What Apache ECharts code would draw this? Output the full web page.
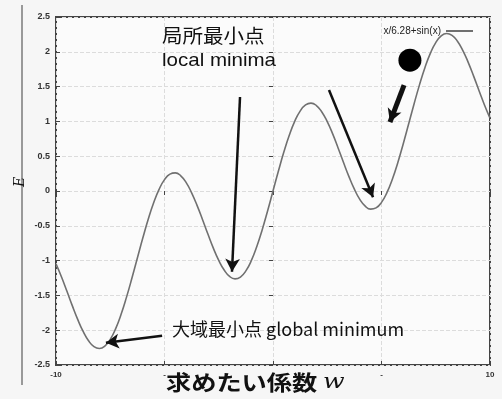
<!DOCTYPE html>
<html><head><meta charset="utf-8">
<script src="https://cdn.jsdelivr.net/npm/echarts@6/dist/echarts.min.js"></script>
<style>html,body{margin:0;padding:0;background:#f6f6f6;}#c{width:502px;height:399px;}</style>
</head><body><div id="c"></div>
<script>
const seriesName = 'x/6.28+sin(x)';
const xValues = [-10,-9.75,-9.5,-9.25,-9,-8.75,-8.5,-8.25,-8,-7.75,-7.5,-7.25,-7,-6.75,-6.5,-6.25,-6,-5.75,-5.5,-5.25,-5,-4.75,-4.5,-4.25,-4,-3.75,-3.5,-3.25,-3,-2.75,-2.5,-2.25,-2,-1.75,-1.5,-1.25,-1,-0.75,-0.5,-0.25,0,
  0.25,0.5,0.75,1,1.25,1.5,1.75,2,2.25,2.5,2.75,3,3.25,3.5,3.75,4,4.25,4.5,4.75,5,5.25,5.5,5.75,6,6.25,6.5,6.75,7,7.25,7.5,7.75,8,8.25,8.5,8.75,9,9.25,9.5,9.75,10];
const yValues = [-1.048,-1.233,-1.438,-1.647,-1.845,-2.018,-2.152,-2.236,-2.263,-2.229,-2.132,-1.978,-1.772,-1.525,-1.250,-0.962,-0.676,-0.407,-0.170,0.023,0.163,0.243,0.261,0.218,0.120,-0.026,-0.207,-0.409,-0.619,-0.820,-0.997,-1.136,-1.228,-1.263,-1.236,-1.148,-1.001,-0.801,-0.559,-0.287,0,
  0.287,0.559,0.801,1.001,1.148,1.236,1.263,1.228,1.136,0.997,0.820,0.619,0.409,0.207,0.026,-0.120,-0.218,-0.261,-0.243,-0.163,-0.023,0.170,0.407,0.676,0.962,1.250,1.525,1.772,1.978,2.132,2.229,2.263,2.236,2.152,2.018,1.845,1.647,1.438,1.233,1.048];
const yTicks = [-2.5,-2,-1.5,-1,-0.5,0,0.5,1,1.5,2,2.5];
const xTickLabels = {'-10':'-10','10':'10'};
const arrows = [
  [[-1.52,1.35],[-1.89,-1.16]],
  [[2.58,1.45],[4.61,-0.09]],
  [[-5.11,-2.08],[-7.7,-2.18]]
];
const thickArrow = [[6.04,1.52],[5.39,0.99]];
const ball = [6.31,1.88];

const tickOnly = {axisLine:{show:false},axisLabel:{show:false},splitLine:{show:false},
  axisTick:{show:true,inside:true,length:4,lineStyle:{color:'#444'}}};

const chart = echarts.init(document.getElementById('c'));
chart.setOption({
  backgroundColor:'#f6f6f6',
  animation:false,
  grid:{left:56,right:12,top:17,bottom:34,show:true,backgroundColor:'#fbfbfb',borderColor:'#444',borderWidth:2},
  legend:{top:21,right:24,itemWidth:27,itemHeight:2,icon:'rect',itemGap:5,align:'right',
    textStyle:{fontSize:10,color:'#222',fontFamily:'Liberation Sans'},data:[seriesName]},
  xAxis:[{type:'value',min:-10,max:10,interval:5,
    axisLine:{show:false,onZero:false},
    axisTick:{show:true,inside:true,length:4,lineStyle:{color:'#444'}},
    axisLabel:{fontSize:8,fontWeight:'bold',color:'#333',margin:6,
      formatter:v=>xTickLabels[String(v)]!==undefined?xTickLabels[String(v)]:'-'},
    splitLine:{show:true,lineStyle:{color:'#dcdcdc',type:'dashed'}}
  },Object.assign({type:'value',min:-10,max:10,interval:5,position:'top'},tickOnly)],
  yAxis:[{type:'value',min:-2.5,max:2.5,interval:0.5,
    axisLine:{show:false,onZero:false},
    axisTick:{show:true,inside:true,length:4,lineStyle:{color:'#444'}},
    axisLabel:{fontSize:9,fontWeight:'bold',color:'#333',margin:6,fontFamily:'Liberation Sans',
      formatter:v=>String(yTicks.find(t=>Math.abs(t-v)<1e-9))},
    splitLine:{show:true,lineStyle:{color:'#dcdcdc',type:'dashed'}}
  },Object.assign({type:'value',min:-2.5,max:2.5,interval:0.5,position:'right'},tickOnly)],
  series:[
    {name:seriesName,type:'line',smooth:true,symbol:'none',
      lineStyle:{color:'#707070',width:1.6},itemStyle:{color:'#707070'},
      data:xValues.map((x,i)=>[x,yValues[i]]),
      markLine:{silent:true,symbol:['none','arrow'],symbolSize:[11,13],animation:false,
        label:{show:false},
        lineStyle:{color:'#111',width:2.5,type:'solid'},
        data:arrows.map(a=>[{coord:a[0]},{coord:a[1]}]).concat([[{coord:thickArrow[0],lineStyle:{width:5}},{coord:thickArrow[1],lineStyle:{width:5}}]])
      }
    },
    {name:'ball',type:'scatter',data:[ball],symbolSize:23,itemStyle:{color:'#000',opacity:1},silent:true}
  ],
  graphic:[
    {type:'rect',shape:{x:21,y:5,width:2,height:380},style:{fill:'#999'}},
    {type:'text',x:20,y:182,rotation:Math.PI/2,z:10,style:{text:'E',fontSize:14,fontFamily:'DejaVu Serif',fontStyle:'italic',fill:'#111',align:'center',verticalAlign:'middle'}},
    {type:'text',x:162,y:26,scaleX:1.08,z:10,style:{text:'局所最小点',fontSize:19,fontFamily:'Noto Sans CJK JP',fill:'#111'}},
    {type:'text',x:162,y:51,scaleX:1.08,z:10,style:{text:'local minima',fontSize:19,fontFamily:'Liberation Sans',fill:'#111'}},
    {type:'text',x:172,y:320,z:10,style:{text:'大域最小点 global minimum',fontSize:18,fontFamily:'Noto Sans CJK JP',fill:'#111'}},
    {type:'text',x:166,y:372,scaleX:1.2,z:10,style:{rich:{a:{fontSize:21,fontFamily:'Noto Sans CJK JP',fontWeight:'bold',fill:'#111'},
      b:{fontSize:21,fontFamily:'DejaVu Serif',fontStyle:'italic',fill:'#111'}},text:'{a|求めたい係数 }{b|w}'}}
  ]
});
</script></body></html>
